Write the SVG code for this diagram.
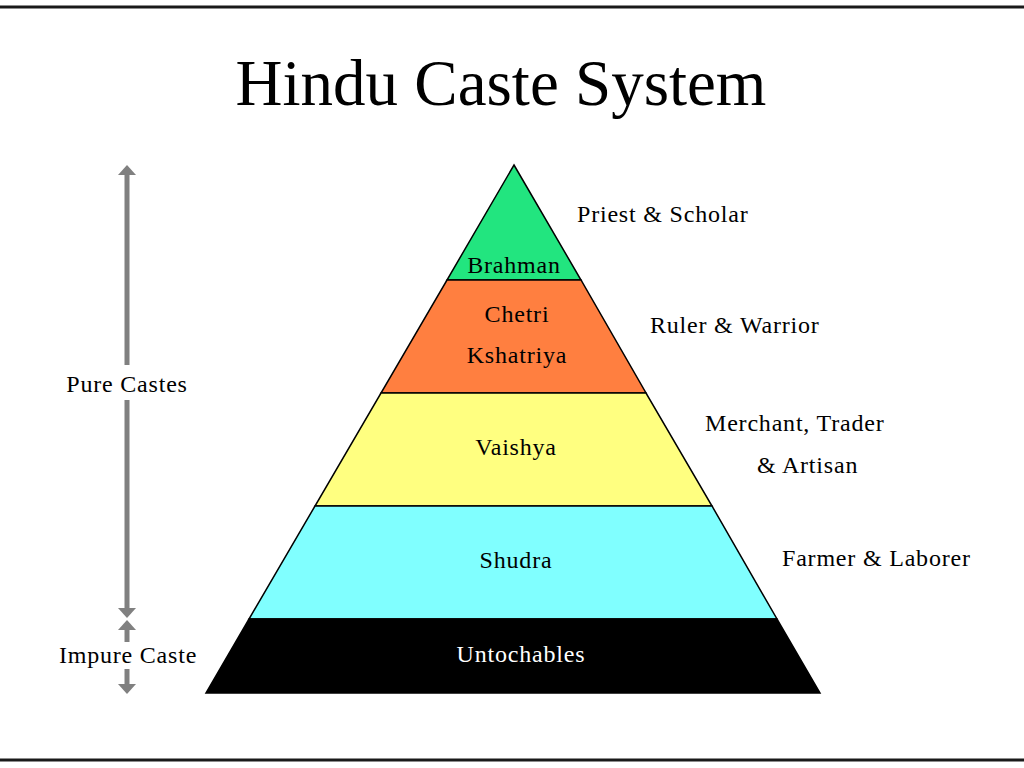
<svg xmlns="http://www.w3.org/2000/svg" width="1024" height="768" viewBox="0 0 1024 768">
<style>
.t{font-family:"Liberation Serif","Times New Roman",serif;font-size:24px;fill:#000;letter-spacing:0.8px}
.c{text-anchor:middle}
.layer{stroke:#000;stroke-width:1.5;stroke-linejoin:miter}
.arr{stroke:#808080;stroke-width:5;fill:none;marker-end:url(#ah)}
.rule{stroke:#1a1a1a;stroke-width:3}
</style>
<defs>
<marker id="ah" viewBox="0 0 10 18" refX="4" refY="9" markerWidth="10" markerHeight="18" markerUnits="userSpaceOnUse" orient="auto">
<path d="M0,0 L10,9 L0,18 z" fill="#808080"/>
</marker>
</defs>
<rect width="1024" height="768" fill="#fff"/>
<line class="rule" x1="0" y1="7" x2="1024" y2="7"/>
<line class="rule" x1="0" y1="760" x2="1024" y2="760"/>
<text x="501" y="105" class="t c" style="font-size:65px;letter-spacing:0">Hindu Caste System</text>
<g id="brahman">
<polygon class="layer" points="514,165 581,280 447,280" fill="#22E57F"/>
<text x="514" y="273" class="t c">Brahman</text>
</g>
<g id="kshatriya">
<polygon class="layer" points="447,280 581,280 646,393 381,393" fill="#FF7F40"/>
<text x="517" y="322" class="t c">Chetri</text>
<text x="517" y="363" class="t c">Kshatriya</text>
</g>
<g id="vaishya">
<polygon class="layer" points="381,393 646,393 712,506 315,506" fill="#FFFF80"/>
<text x="516" y="455" class="t c">Vaishya</text>
</g>
<g id="shudra">
<polygon class="layer" points="315,506 712,506 777,619 249,619" fill="#80FFFF"/>
<text x="516" y="568" class="t c">Shudra</text>
</g>
<g id="untouchables">
<polygon class="layer" points="249,619 777,619 820,693 206,693" fill="#000"/>
<text x="521" y="662" class="t c" style="fill:#fff">Untochables</text>
</g>
<g id="roles">
<text x="577" y="222" class="t">Priest &amp; Scholar</text>
<text x="650" y="333" class="t">Ruler &amp; Warrior</text>
<text x="705" y="431" class="t">Merchant, Trader</text>
<text x="757" y="473" class="t">&amp; Artisan</text>
<text x="782" y="566" class="t">Farmer &amp; Laborer</text>
</g>
<g id="groups">
<text x="127" y="392" class="t c">Pure Castes</text>
<text x="128" y="663" class="t c">Impure Caste</text>
</g>
<g id="connectors">
<line class="arr" x1="127" y1="365" x2="127" y2="171"/>
<line class="arr" x1="127" y1="400" x2="127" y2="612"/>
<line class="arr" x1="127" y1="642" x2="127" y2="626"/>
<line class="arr" x1="127" y1="669" x2="127" y2="688"/>
</g>
</svg>
